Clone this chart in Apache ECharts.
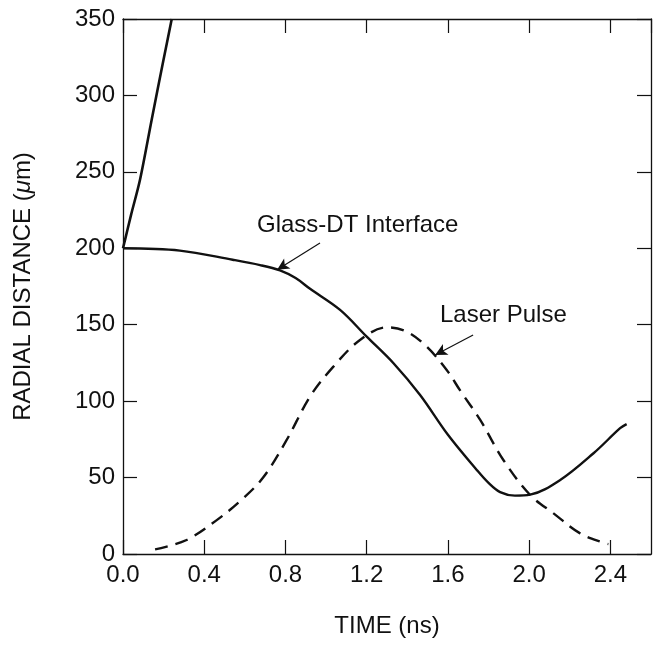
<!DOCTYPE html>
<html>
<head>
<meta charset="utf-8">
<style>
  html, body { margin: 0; padding: 0; background: #fff; }
  #chart { width: 656px; height: 647px; }
</style>
<script src="https://cdn.jsdelivr.net/npm/echarts@6/dist/echarts.min.js"></script>
</head>
<body>
<div id="chart"></div>
<script>
// 玻璃-DT 界面 上分支
const glassUpperT = [0, 0.01, 0.04, 0.084, 0.141, 0.199, 0.24];
const glassUpperR = [200, 205.5, 222, 245, 284, 323, 350];

// 玻璃-DT 界面 下分支
const glassLowerT = [0, 0.28, 0.54, 0.675, 0.773, 0.85, 0.921, 1.069, 1.2, 1.332, 1.463, 1.6, 1.742, 1.8, 1.857, 1.93, 2.005, 2.153, 2.317, 2.448, 2.48];
const glassLowerR = [200, 198.5, 192.5, 189, 185.5, 180.5, 173.5, 159.7, 142.2, 124.8, 104, 78, 55, 46.5, 40.5, 38.2, 38.8, 48.4, 65.9, 82.3, 85];

// 激光脉冲
const laserT = [0.158, 0.31, 0.46, 0.58, 0.69, 0.806, 0.921, 1.036, 1.167, 1.299, 1.396, 1.495, 1.594, 1.66, 1.759, 1.873, 2.005, 2.12, 2.251, 2.374, 2.39];
const laserR = [3, 9, 22, 35, 50, 74.6, 103, 122.6, 140, 148.3, 145.5, 135.7, 120.4, 107, 87.7, 61.5, 38.6, 26.6, 13.5, 7, 6.5];

const zip = (xs, ys) => xs.map((x, i) => [x, ys[i]]);

const FONT = 'Liberation Sans';
const INK = '#111';

const axisLine = { show: true, onZero: false, lineStyle: { color: INK, width: 1.3 } };
const tickIn = { show: true, inside: true, length: 14, lineStyle: { color: INK, width: 1.2 } };

let myChart = echarts.init(document.getElementById('chart'));

let option = {
  backgroundColor: '#fff',
  animation: false,
  grid: { left: 123, right: 5, top: 19, bottom: 93 },
  xAxis: [
    {
      type: 'value',
      min: 0,
      max: 2.6,
      interval: 0.4,
      name: 'TIME (ns)',
      nameLocation: 'middle',
      nameGap: 60,
      nameTextStyle: { fontFamily: FONT, fontSize: 24, color: INK },
      axisLine: axisLine,
      axisTick: tickIn,
      splitLine: { show: false },
      axisLabel: {
        margin: 9,
        showMaxLabel: false,
        fontFamily: FONT,
        fontSize: 24,
        color: INK,
        formatter: v => v.toFixed(1),
      },
    },
    {
      type: 'value',
      position: 'top',
      min: 0,
      max: 2.6,
      interval: 0.4,
      axisLine: axisLine,
      axisTick: tickIn,
      axisLabel: { show: false },
      splitLine: { show: false },
    },
  ],
  yAxis: [
    {
      type: 'value',
      min: 0,
      max: 350,
      interval: 50,
      name: 'RADIAL DISTANCE ({i|μ}m)',
      nameLocation: 'middle',
      nameGap: 88,
      nameTextStyle: {
        fontFamily: FONT,
        fontSize: 24,
        color: INK,
        rich: { i: { fontFamily: FONT, fontSize: 24, fontStyle: 'italic', color: INK } },
      },
      axisLine: axisLine,
      axisTick: tickIn,
      splitLine: { show: false },
      axisLabel: { margin: 8, fontFamily: FONT, fontSize: 24, color: INK },
    },
    {
      type: 'value',
      position: 'right',
      min: 0,
      max: 350,
      interval: 50,
      axisLine: axisLine,
      axisTick: tickIn,
      axisLabel: { show: false },
      splitLine: { show: false },
    },
  ],
  series: [
    {
      name: 'Glass-DT Interface',
      type: 'line',
      data: zip(glassUpperT, glassUpperR),
      smooth: 0.3,
      symbol: 'none',
      lineStyle: { color: INK, width: 2.6 },
    },
    {
      name: 'Glass-DT Interface',
      type: 'line',
      data: zip(glassLowerT, glassLowerR),
      smooth: 0.35,
      symbol: 'none',
      lineStyle: { color: INK, width: 2.4 },
      markLine: {
        silent: true,
        symbolSize: [9, 12],
        lineStyle: { color: INK, width: 1.2, type: 'solid' },
        label: { show: false },
        data: [
          [
            { coord: [0.97, 203.5], symbol: 'none' },
            { coord: [0.759, 185.9], symbol: 'arrow' },
          ],
          [
            { coord: [1.724, 143.3], symbol: 'none' },
            { coord: [1.537, 130.2], symbol: 'arrow' },
          ],
        ],
      },
    },
    {
      name: 'Laser Pulse',
      type: 'line',
      data: zip(laserT, laserR),
      smooth: 0.35,
      symbol: 'none',
      lineStyle: { color: INK, width: 2.4, type: [13, 8] },
    },
  ],
  graphic: [
    {
      type: 'text',
      left: 257,
      top: 213,
      style: { text: 'Glass-DT Interface', fontFamily: FONT, fontSize: 24, fill: INK },
    },
    {
      type: 'text',
      left: 440,
      top: 303,
      style: { text: 'Laser Pulse', fontFamily: FONT, fontSize: 24, fill: INK },
    },
  ],
};

myChart.setOption(option);
</script>
</body>
</html>
